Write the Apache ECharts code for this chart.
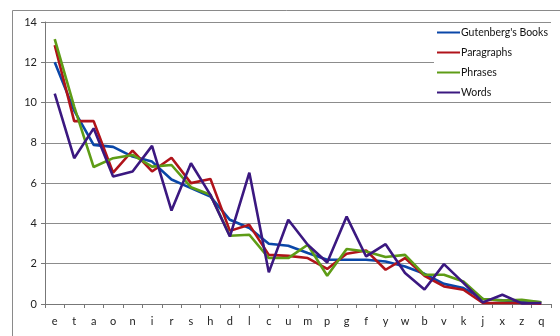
<!DOCTYPE html>
<html>
<head>
<meta charset="utf-8">
<script src="https://cdn.jsdelivr.net/npm/echarts@6/dist/echarts.min.js"></script>
<style>
  html, body { margin: 0; padding: 0; background: #fff; }
  #chart { width: 560px; height: 336px; }
</style>
</head>
<body>
<div id="chart"></div>
<script>
// letters, ordered as in the original chart
const letters = ['e', 't', 'a', 'o', 'n', 'i', 'r', 's', 'h', 'd', 'l', 'c', 'u', 'm', 'p', 'g', 'f', 'y', 'w', 'b', 'v', 'k', 'j', 'x', 'z', 'q'];

// frequency (%) per source
const books = [12.0, 9.6, 7.9, 7.8, 7.32, 7.07, 6.18, 5.75, 5.33, 4.18, 3.77, 2.99, 2.89, 2.53, 2.2, 2.2, 2.2, 2.11, 1.86, 1.5, 1.0, 0.79, 0.25, 0.18, 0.13, 0.08];
const paragraphs = [12.85, 9.08, 9.08, 6.52, 7.62, 6.58, 7.26, 6.0, 6.21, 3.63, 3.93, 2.44, 2.39, 2.28, 1.74, 2.49, 2.66, 1.7, 2.28, 1.4, 0.87, 0.71, 0.05, 0.05, 0.05, 0.02];
const phrases = [13.15, 9.8, 6.8, 7.24, 7.4, 6.82, 6.9, 5.8, 5.42, 3.39, 3.44, 2.28, 2.28, 2.94, 1.4, 2.73, 2.61, 2.33, 2.44, 1.45, 1.45, 1.12, 0.25, 0.17, 0.21, 0.08];
const words = [10.45, 7.24, 8.72, 6.33, 6.58, 7.85, 4.64, 6.99, 5.42, 3.35, 6.52, 1.57, 4.18, 2.94, 2.06, 4.34, 2.36, 2.97, 1.54, 0.72, 1.98, 1.05, 0.08, 0.46, 0.03, 0.05];

const seriesNames = ["Gutenberg's Books", 'Paragraphs', 'Phrases', 'Words'];
const colors = ['#0a47a8', '#b0131a', '#5e9c16', '#3b1880'];

const chart = echarts.init(document.getElementById('chart'), null, { renderer: 'canvas' });

const lineSeries = [books, paragraphs, phrases, words].map((data, i) => ({
    name: seriesNames[i],
    type: 'line',
    data: data,
    symbol: 'none',
    z: 3 + (i === 3 ? 1 : 0),
    lineStyle: { width: 2.6, color: colors[i] },
    itemStyle: { color: colors[i] }
}));

chart.setOption({
    backgroundColor: '#fff',
    animation: false,
    textStyle: { fontFamily: 'Lato' },
    graphic: [{
        type: 'rect',
        shape: { x: 12.5, y: 10.5, width: 600, height: 400 },
        style: { fill: 'none', stroke: '#8a8a8a', lineWidth: 1 },
        silent: true
    }],
    grid: { left: 45, right: 9, top: 22, bottom: 32 },
    legend: {
        data: seriesNames.map(n => ({ name: n, icon: 'rect' })),
        orient: 'vertical',
        left: 434,
        top: 25,
        padding: [0, 4, 2, 3],
        backgroundColor: '#fff',
        itemWidth: 23,
        itemHeight: 2,
        itemGap: 5,
        textStyle: { fontSize: 10.5, color: '#111', lineHeight: 15, padding: [0, 0, 0, -4] }
    },
    xAxis: {
        type: 'category',
        data: letters,
        boundaryGap: true,
        axisLine: { lineStyle: { color: '#777', width: 1 } },
        axisTick: { show: true, length: 4, lineStyle: { color: '#777' } },
        axisLabel: { color: '#222', fontSize: 11, margin: 12, interval: 0 }
    },
    yAxis: {
        type: 'value',
        min: 0,
        max: 14,
        interval: 2,
        axisLine: { show: true, lineStyle: { color: '#777', width: 1 } },
        axisTick: { show: true, length: 4, lineStyle: { color: '#777' } },
        axisLabel: { color: '#222', fontSize: 11, margin: 8 },
        splitLine: { lineStyle: { color: '#8c8c8c', width: 1 } }
    },
    series: lineSeries
});
</script>
</body>
</html>
